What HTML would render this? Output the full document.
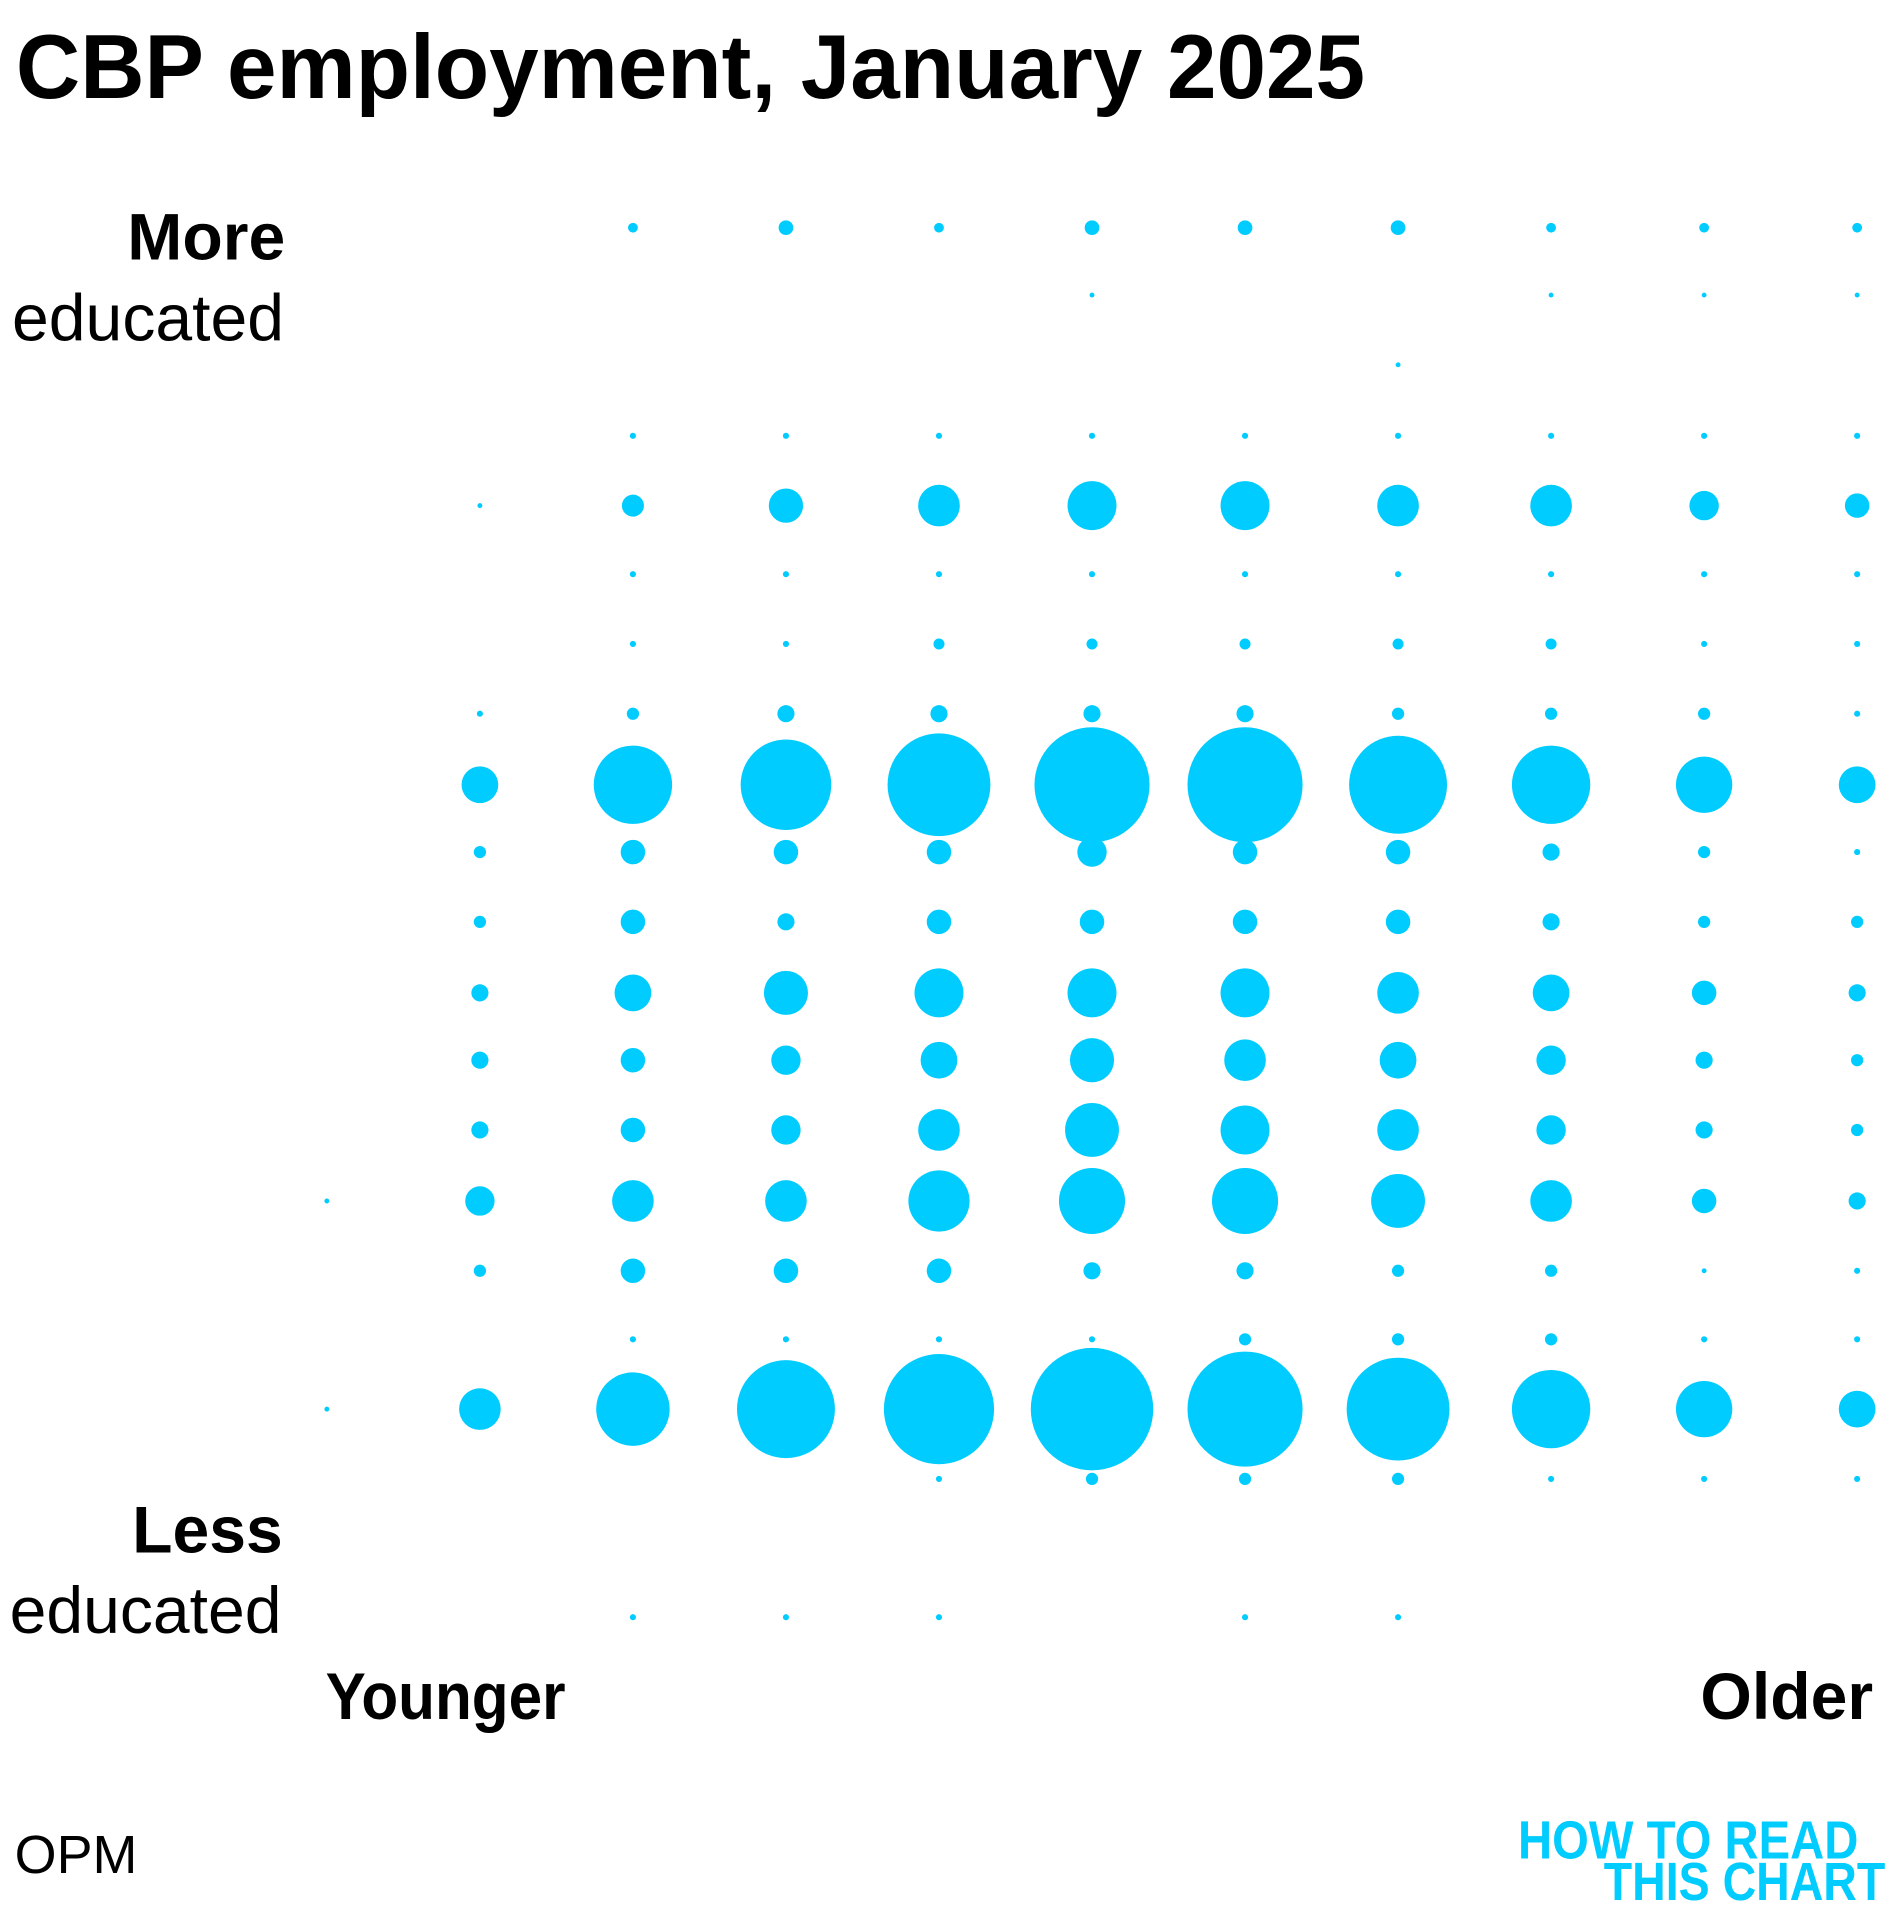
<!DOCTYPE html>
<html><head><meta charset="utf-8"><style>html,body{margin:0;padding:0;background:#fff}svg{display:block}</style></head><body>
<svg width="1900" height="1920" viewBox="0 0 1552 1568.3" preserveAspectRatio="none" xmlns="http://www.w3.org/2000/svg">
<g font-family="'Liberation Sans Narrow','Liberation Sans',sans-serif" fill="#000">
<text x="13" y="80" font-size="74" font-weight="bold" textLength="1102" lengthAdjust="spacingAndGlyphs">CBP employment, January 2025</text>
<text x="233" y="212" font-size="54" font-weight="bold" text-anchor="end">More</text>
<text x="232" y="278" font-size="54" text-anchor="end">educated</text>
<text x="231" y="1268" font-size="54" font-weight="bold" text-anchor="end">Less</text>
<text x="230" y="1334" font-size="54" text-anchor="end">educated</text>
<text x="266" y="1404" font-size="54" font-weight="bold" textLength="196" lengthAdjust="spacingAndGlyphs">Younger</text>
<text x="1530" y="1404" font-size="54" font-weight="bold" text-anchor="end">Older</text>
<text x="12" y="1530" font-size="44">OPM</text>
<text x="1240" y="1518" font-size="44" font-weight="bold" fill="#00CCFF" textLength="278" lengthAdjust="spacingAndGlyphs">HOW TO READ</text>
<text x="1310" y="1552" font-size="44" font-weight="bold" fill="#00CCFF" textLength="230" lengthAdjust="spacingAndGlyphs">THIS CHART</text>
</g>
<g fill="#00CCFF">
<circle cx="517" cy="186" r="4"/><circle cx="642" cy="186" r="6"/><circle cx="767" cy="186" r="4"/><circle cx="892" cy="186" r="6"/><circle cx="1017" cy="186" r="6"/><circle cx="1142" cy="186" r="6"/><circle cx="1267" cy="186" r="4"/><circle cx="1392" cy="186" r="4"/><circle cx="1517" cy="186" r="4"/>
<circle cx="892" cy="241" r="2"/><circle cx="1267" cy="241" r="2"/><circle cx="1392" cy="241" r="2"/><circle cx="1517" cy="241" r="2"/>
<circle cx="1142" cy="298" r="2"/>
<circle cx="517" cy="356" r="2.5"/><circle cx="642" cy="356" r="2.5"/><circle cx="767" cy="356" r="2.5"/><circle cx="892" cy="356" r="2.5"/><circle cx="1017" cy="356" r="2.5"/><circle cx="1142" cy="356" r="2.5"/><circle cx="1267" cy="356" r="2.5"/><circle cx="1392" cy="356" r="2.5"/><circle cx="1517" cy="356" r="2.5"/>
<circle cx="392" cy="413" r="2"/><circle cx="517" cy="413" r="9"/><circle cx="642" cy="413" r="14"/><circle cx="767" cy="413" r="17"/><circle cx="892" cy="413" r="20"/><circle cx="1017" cy="413" r="20"/><circle cx="1142" cy="413" r="17"/><circle cx="1267" cy="413" r="17"/><circle cx="1392" cy="413" r="12"/><circle cx="1517" cy="413" r="10"/>
<circle cx="517" cy="469" r="2.5"/><circle cx="642" cy="469" r="2.5"/><circle cx="767" cy="469" r="2.5"/><circle cx="892" cy="469" r="2.5"/><circle cx="1017" cy="469" r="2.5"/><circle cx="1142" cy="469" r="2.5"/><circle cx="1267" cy="469" r="2.5"/><circle cx="1392" cy="469" r="2.5"/><circle cx="1517" cy="469" r="2.5"/>
<circle cx="517" cy="526" r="2.5"/><circle cx="642" cy="526" r="2.5"/><circle cx="767" cy="526" r="4.5"/><circle cx="892" cy="526" r="4.5"/><circle cx="1017" cy="526" r="4.5"/><circle cx="1142" cy="526" r="4.5"/><circle cx="1267" cy="526" r="4.5"/><circle cx="1392" cy="526" r="2.5"/><circle cx="1517" cy="526" r="2.5"/>
<circle cx="392" cy="583" r="2.5"/><circle cx="517" cy="583" r="5"/><circle cx="642" cy="583" r="7"/><circle cx="767" cy="583" r="7"/><circle cx="892" cy="583" r="7"/><circle cx="1017" cy="583" r="7"/><circle cx="1142" cy="583" r="5"/><circle cx="1267" cy="583" r="5"/><circle cx="1392" cy="583" r="5"/><circle cx="1517" cy="583" r="2.5"/>
<circle cx="392" cy="641" r="15"/><circle cx="517" cy="641" r="32"/><circle cx="642" cy="641" r="37"/><circle cx="767" cy="641" r="42"/><circle cx="892" cy="641" r="47"/><circle cx="1017" cy="641" r="47"/><circle cx="1142" cy="641" r="40"/><circle cx="1267" cy="641" r="32"/><circle cx="1392" cy="641" r="23"/><circle cx="1517" cy="641" r="15"/>
<circle cx="392" cy="696" r="5"/><circle cx="517" cy="696" r="10"/><circle cx="642" cy="696" r="10"/><circle cx="767" cy="696" r="10"/><circle cx="892" cy="696" r="12"/><circle cx="1017" cy="696" r="10"/><circle cx="1142" cy="696" r="10"/><circle cx="1267" cy="696" r="7"/><circle cx="1392" cy="696" r="5"/><circle cx="1517" cy="696" r="2.5"/>
<circle cx="392" cy="753" r="5"/><circle cx="517" cy="753" r="10"/><circle cx="642" cy="753" r="7"/><circle cx="767" cy="753" r="10"/><circle cx="892" cy="753" r="10"/><circle cx="1017" cy="753" r="10"/><circle cx="1142" cy="753" r="10"/><circle cx="1267" cy="753" r="7"/><circle cx="1392" cy="753" r="5"/><circle cx="1517" cy="753" r="5"/>
<circle cx="392" cy="811" r="7"/><circle cx="517" cy="811" r="15"/><circle cx="642" cy="811" r="18"/><circle cx="767" cy="811" r="20"/><circle cx="892" cy="811" r="20"/><circle cx="1017" cy="811" r="20"/><circle cx="1142" cy="811" r="17"/><circle cx="1267" cy="811" r="15"/><circle cx="1392" cy="811" r="10"/><circle cx="1517" cy="811" r="7"/>
<circle cx="392" cy="866" r="7"/><circle cx="517" cy="866" r="10"/><circle cx="642" cy="866" r="12"/><circle cx="767" cy="866" r="15"/><circle cx="892" cy="866" r="18"/><circle cx="1017" cy="866" r="17"/><circle cx="1142" cy="866" r="15"/><circle cx="1267" cy="866" r="12"/><circle cx="1392" cy="866" r="7"/><circle cx="1517" cy="866" r="5"/>
<circle cx="392" cy="923" r="7"/><circle cx="517" cy="923" r="10"/><circle cx="642" cy="923" r="12"/><circle cx="767" cy="923" r="17"/><circle cx="892" cy="923" r="22"/><circle cx="1017" cy="923" r="20"/><circle cx="1142" cy="923" r="17"/><circle cx="1267" cy="923" r="12"/><circle cx="1392" cy="923" r="7"/><circle cx="1517" cy="923" r="5"/>
<circle cx="267" cy="981" r="2"/><circle cx="392" cy="981" r="12"/><circle cx="517" cy="981" r="17"/><circle cx="642" cy="981" r="17"/><circle cx="767" cy="981" r="25"/><circle cx="892" cy="981" r="27"/><circle cx="1017" cy="981" r="27"/><circle cx="1142" cy="981" r="22"/><circle cx="1267" cy="981" r="17"/><circle cx="1392" cy="981" r="10"/><circle cx="1517" cy="981" r="7"/>
<circle cx="392" cy="1038" r="5"/><circle cx="517" cy="1038" r="10"/><circle cx="642" cy="1038" r="10"/><circle cx="767" cy="1038" r="10"/><circle cx="892" cy="1038" r="7"/><circle cx="1017" cy="1038" r="7"/><circle cx="1142" cy="1038" r="5"/><circle cx="1267" cy="1038" r="5"/><circle cx="1392" cy="1038" r="2"/><circle cx="1517" cy="1038" r="2.5"/>
<circle cx="517" cy="1094" r="2.5"/><circle cx="642" cy="1094" r="2.5"/><circle cx="767" cy="1094" r="2.5"/><circle cx="892" cy="1094" r="2.5"/><circle cx="1017" cy="1094" r="5"/><circle cx="1142" cy="1094" r="5"/><circle cx="1267" cy="1094" r="5"/><circle cx="1392" cy="1094" r="2.5"/><circle cx="1517" cy="1094" r="2.5"/>
<circle cx="267" cy="1151" r="2"/><circle cx="392" cy="1151" r="17"/><circle cx="517" cy="1151" r="30"/><circle cx="642" cy="1151" r="40"/><circle cx="767" cy="1151" r="45"/><circle cx="892" cy="1151" r="50"/><circle cx="1017" cy="1151" r="47"/><circle cx="1142" cy="1151" r="42"/><circle cx="1267" cy="1151" r="32"/><circle cx="1392" cy="1151" r="23"/><circle cx="1517" cy="1151" r="15"/>
<circle cx="767" cy="1208" r="2.5"/><circle cx="892" cy="1208" r="5"/><circle cx="1017" cy="1208" r="5"/><circle cx="1142" cy="1208" r="5"/><circle cx="1267" cy="1208" r="2.5"/><circle cx="1392" cy="1208" r="2.5"/><circle cx="1517" cy="1208" r="2.5"/>
<circle cx="517" cy="1321" r="2.5"/><circle cx="642" cy="1321" r="2.5"/><circle cx="767" cy="1321" r="2.5"/><circle cx="1017" cy="1321" r="2.5"/><circle cx="1142" cy="1321" r="2.5"/>
</g>
</svg>
</body></html>
